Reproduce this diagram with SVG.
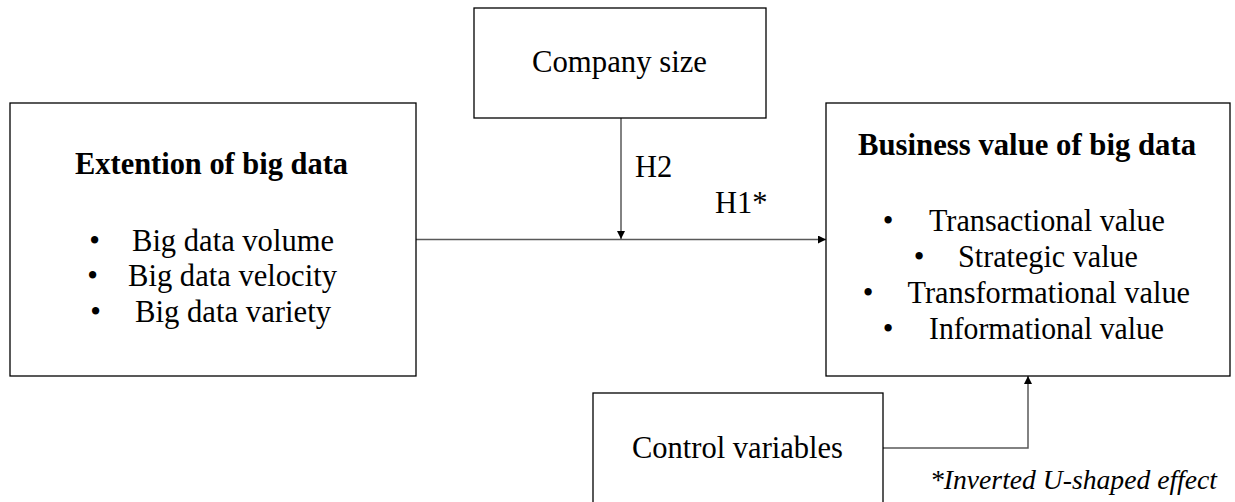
<svg xmlns="http://www.w3.org/2000/svg" width="1235" height="502" viewBox="0 0 1235 502">
  <style>
    .box { fill: #ffffff; stroke: #000000; stroke-width: 1.3; }
    .t { font-family: "Liberation Serif", "Times New Roman", serif; font-size: 30.5px; fill: #000000; }
    .b { font-weight: bold; }
    .i { font-style: italic; font-size: 28px; }
    .bul { text-anchor: middle; }
    .conn { fill: none; stroke: #595959; stroke-width: 1.5; }
  </style>
  <defs>
    <marker id="arrow" viewBox="0 0 10 10" refX="10" refY="5" markerWidth="9" markerHeight="8" markerUnits="userSpaceOnUse" orient="auto">
      <path d="M0,0 L10,5 L0,10 z" fill="#000000"/>
    </marker>
  </defs>
  <rect width="1235" height="502" fill="#ffffff"/>

  <g id="connectors">
    <line class="conn" x1="416" y1="239.5" x2="826" y2="239.5" marker-end="url(#arrow)"/>
    <line class="conn" x1="621" y1="118" x2="621" y2="239" marker-end="url(#arrow)"/>
    <polyline class="conn" points="883,448 1028,448 1028,376" marker-end="url(#arrow)"/>
    <text class="t" x="635" y="177">H2</text>
    <text class="t" x="715" y="213">H1*</text>
  </g>

  <g id="extension">
    <rect class="box" x="10" y="103" width="406" height="273"/>
    <text class="t b" x="75" y="174" textLength="273" lengthAdjust="spacingAndGlyphs">Extention of big data</text>
    <text class="t bul" x="94.5" y="250.5">•</text>
    <text class="t" x="132" y="250.5" textLength="202" lengthAdjust="spacingAndGlyphs">Big data volume</text>
    <text class="t bul" x="92.5" y="286">•</text>
    <text class="t" x="128" y="286" textLength="209" lengthAdjust="spacingAndGlyphs">Big data velocity</text>
    <text class="t bul" x="95.5" y="322">•</text>
    <text class="t" x="135" y="322" textLength="196" lengthAdjust="spacingAndGlyphs">Big data variety</text>
  </g>

  <g id="business-value">
    <rect class="box" x="826" y="103" width="404" height="273"/>
    <text class="t b" x="858" y="155" textLength="338" lengthAdjust="spacingAndGlyphs">Business value of big data</text>
    <text class="t bul" x="888" y="231">•</text>
    <text class="t" x="929" y="231" textLength="236" lengthAdjust="spacingAndGlyphs">Transactional value</text>
    <text class="t bul" x="919" y="267">•</text>
    <text class="t" x="958" y="267" textLength="180" lengthAdjust="spacingAndGlyphs">Strategic value</text>
    <text class="t bul" x="868" y="303">•</text>
    <text class="t" x="907.5" y="303" textLength="282.5" lengthAdjust="spacingAndGlyphs">Transformational value</text>
    <text class="t bul" x="888" y="339">•</text>
    <text class="t" x="929" y="339" textLength="235" lengthAdjust="spacingAndGlyphs">Informational value</text>
  </g>

  <g id="company-size">
    <rect class="box" x="474" y="8" width="292" height="110"/>
    <text class="t" x="532" y="72" textLength="175" lengthAdjust="spacingAndGlyphs">Company size</text>
  </g>

  <g id="control-variables">
    <rect class="box" x="593" y="393" width="290" height="130"/>
    <text class="t" x="632" y="458" textLength="211" lengthAdjust="spacingAndGlyphs">Control variables</text>
  </g>

  <g id="note">
    <text class="t i" x="930" y="489" textLength="287" lengthAdjust="spacingAndGlyphs">*Inverted U-shaped effect</text>
  </g>
</svg>
